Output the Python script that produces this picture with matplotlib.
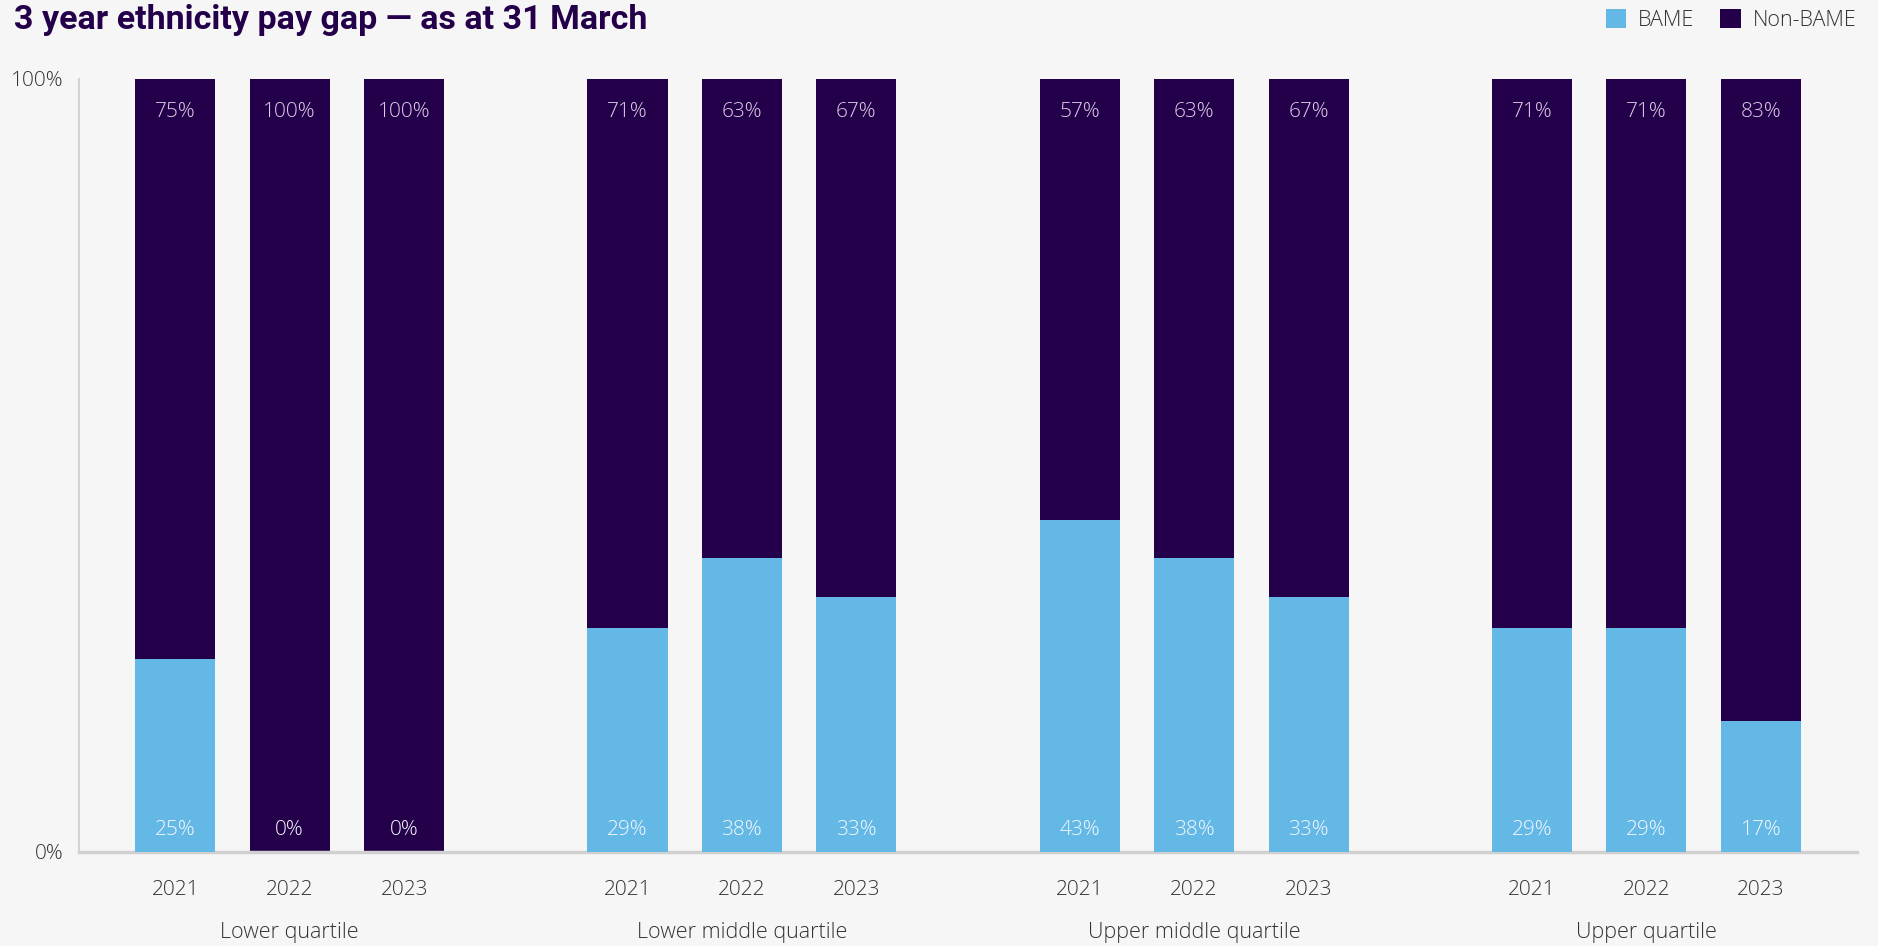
import matplotlib.pyplot as plt
import numpy as np

quartiles = ['Lower quartile', 'Lower middle quartile', 'Upper middle quartile', 'Upper quartile']
years = ['2021', '2022', '2023']

# percentages per quartile, one value per year
bame = [[25, 0, 0], [29, 38, 33], [43, 38, 33], [29, 29, 17]]
non_bame = [[75, 100, 100], [71, 63, 67], [57, 63, 67], [71, 71, 83]]

BLUE = '#63b8e6'
PURPLE = '#24004a'
BG = '#f6f6f6'
TXT = '#333333'

plt.rcParams['font.family'] = ['Open Sans', 'DejaVu Sans']

fig = plt.figure(figsize=(18.78, 9.46), dpi=100, facecolor=BG)
ax = fig.add_axes([0.0421, 0.0994, 0.9467, 0.8171], facecolor=BG)

group_step = 3.95
width = 0.7
xs = []
for g in range(len(quartiles)):
    for i in range(len(years)):
        xs.append(g * group_step + i)
xs = np.array(xs)
b = np.array(bame).ravel() / 100
nb = np.array(non_bame).ravel() / 100

ax.bar(xs, nb, width, bottom=1 - nb, color=PURPLE, label='Non-BAME', zorder=2)
ax.bar(xs, b, width, color=BLUE, label='BAME', zorder=3)

for x, v in zip(xs, np.array(bame).ravel()):
    ax.annotate(f'{v}%', (x, 0), xytext=(0, 16), textcoords='offset points',
                ha='center', va='center', fontsize=15, color='#f4f8fc',
                fontweight='light', zorder=4)
for x, v in zip(xs, np.array(non_bame).ravel()):
    ax.annotate(f'{v}%', (x, 1), xytext=(0, -24), textcoords='offset points',
                ha='center', va='center', fontsize=15, color='#d9cfe6',
                fontweight='light', zorder=4)

ax.set_xlim(-0.84, (len(quartiles) - 1) * group_step + 2 + 0.84)
ax.set_ylim(0, 1)
ax.set_yticks([0, 1])
ax.set_yticklabels(['0%', '100%'], fontsize=15, color=TXT, fontweight='light')
ax.tick_params(axis='y', length=0, pad=11)
ax.set_xticks(xs)
ax.set_xticklabels(years * len(quartiles), fontsize=15, color=TXT, fontweight='light')
ax.tick_params(axis='x', length=0, pad=20)

for g, q in enumerate(quartiles):
    ax.annotate(q, (g * group_step + 1, 0), xytext=(0, -58), textcoords='offset points',
                ha='center', va='center', fontsize=15.5, color=TXT,
                fontweight='light', annotation_clip=False)

for s in ['top', 'right']:
    ax.spines[s].set_visible(False)
ax.spines['left'].set_color('#d4d4d4')
ax.spines['left'].set_linewidth(1.5)
ax.spines['bottom'].set_color('#d0d0d0')
ax.spines['bottom'].set_linewidth(2.5)

fig.text(0.0075, 0.979, '3 year ethnicity pay gap \u2014 as at 31 March', fontsize=24.5,
         fontweight='bold', color='#24004a', ha='left', va='center',
         family=['Roboto', 'DejaVu Sans'], fontstretch='condensed')

handles, labels = ax.get_legend_handles_labels()
leg = fig.legend(handles[::-1], labels[::-1], loc='center right', bbox_to_anchor=(0.993, 0.979),
                 ncol=2, frameon=False, fontsize=15.5, handlelength=0.95, handleheight=0.95,
                 handletextpad=0.55, columnspacing=1.2, borderaxespad=0)
for t in leg.get_texts():
    t.set_color(TXT)
    t.set_fontweight('light')

fig.savefig('out.png', dpi=100, facecolor=BG)
